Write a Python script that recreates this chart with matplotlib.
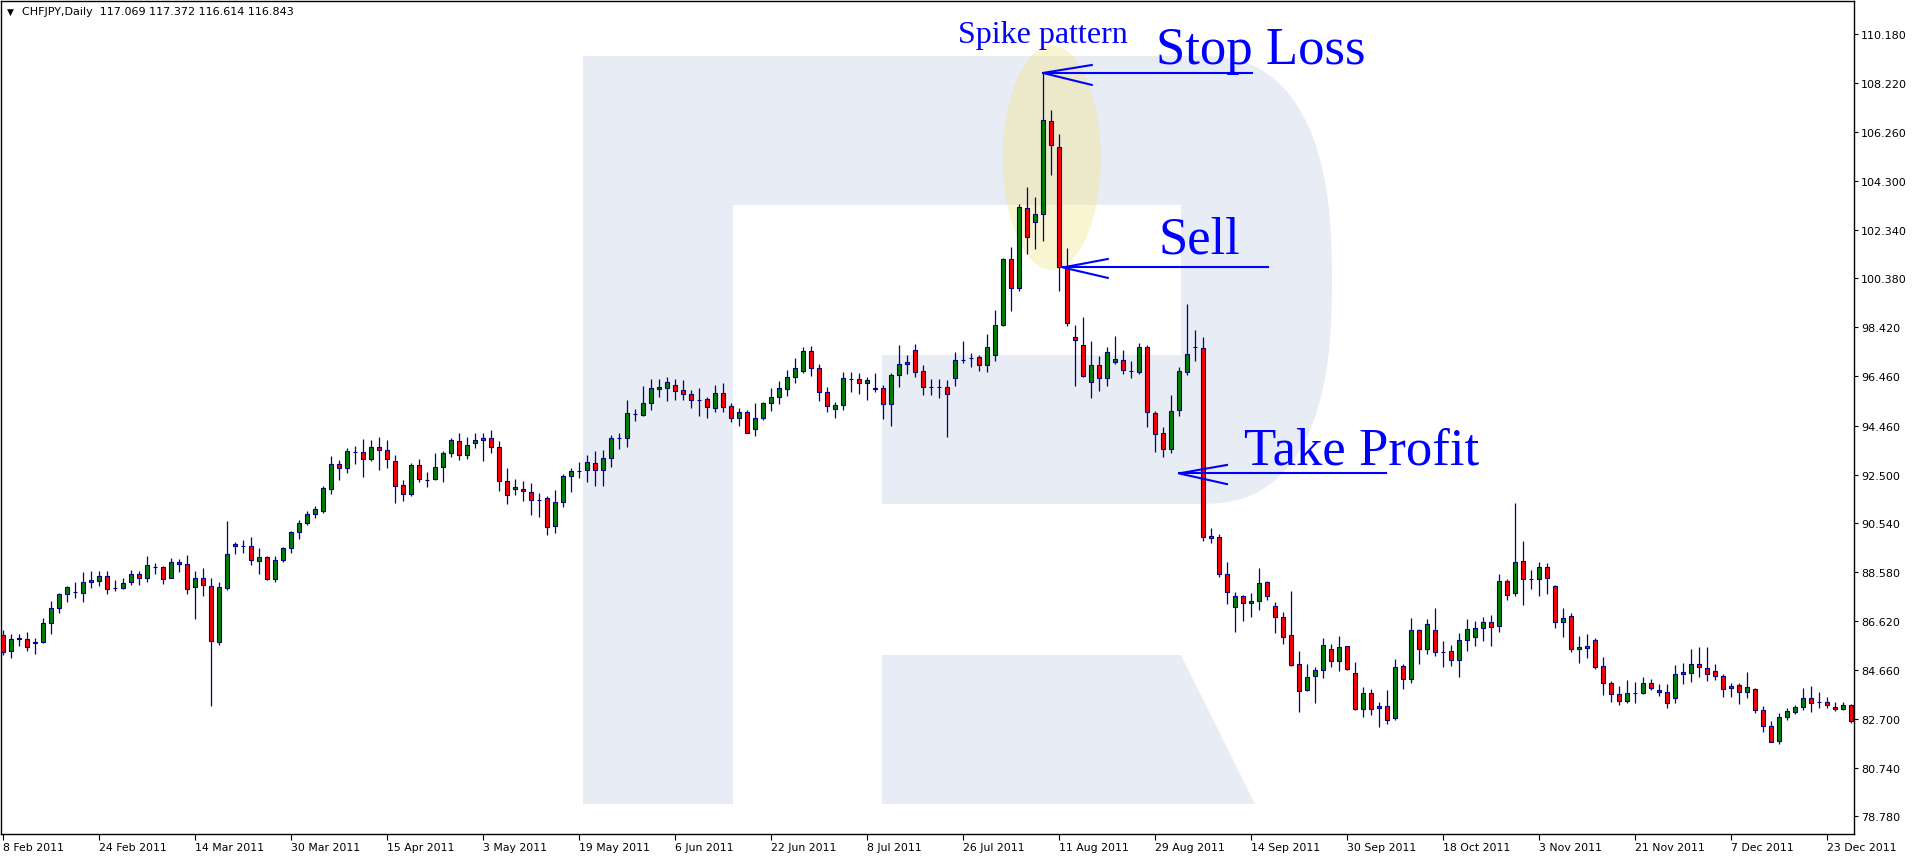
import numpy as np
import pandas as pd
import matplotlib
matplotlib.use("Agg")
import matplotlib.pyplot as plt
from matplotlib.patches import Polygon, Ellipse

# ---- data (daily CHFJPY, 8 Feb - 28 Dec 2011) ------------------------------
OPEN = [86.08, 85.40, 85.92, 85.92, 85.76, 85.76, 86.53, 87.13, 87.69, 87.77,
        87.73, 88.17, 88.24, 88.45, 87.93, 87.96, 88.17, 88.53, 88.37, 88.78,
        88.78, 88.37, 88.98, 88.90, 87.97, 88.33, 88.01, 85.80, 87.96, 89.62,
        89.65, 89.62, 89.04, 89.18, 88.29, 89.06, 89.54, 90.18, 90.54, 90.90,
        91.05, 91.91, 92.91, 92.75, 93.42, 93.39, 93.14, 93.60, 93.47, 93.03,
        92.07, 91.71, 92.87, 92.30, 92.31, 92.79, 93.35, 93.84, 93.27, 93.76,
        93.88, 93.96, 93.60, 92.23, 91.91, 91.94, 91.82, 91.49, 91.55, 90.42,
        91.39, 92.43, 92.63, 92.67, 92.95, 92.67, 93.15, 93.96, 93.96, 94.92,
        94.91, 95.36, 95.95, 95.99, 96.09, 95.88, 95.72, 95.51, 95.52, 95.16,
        95.76, 95.24, 94.79, 95.00, 94.32, 94.76, 95.36, 95.60, 95.92, 96.41,
        96.65, 97.45, 96.77, 95.80, 95.12, 95.28, 96.34, 96.33, 96.17, 95.97,
        95.97, 95.32, 96.49, 96.93, 97.49, 96.65, 96.02, 96.02, 96.00, 96.37,
        97.10, 97.18, 97.21, 96.90, 97.30, 98.49, 101.14, 99.98, 103.19, 102.63,
        102.95, 106.69, 105.64, 100.82, 98.03, 97.70, 96.24, 96.90, 96.37, 97.01,
        97.10, 96.67, 96.63, 97.61, 94.97, 94.16, 93.53, 95.08, 96.61, 97.62,
        97.57, 89.94, 90.01, 88.50, 87.19, 87.61, 87.33, 87.41, 88.17, 87.21,
        86.77, 86.05, 84.88, 83.86, 84.40, 84.64, 85.48, 85.00, 85.60, 84.52,
        83.07, 83.72, 83.11, 83.23, 82.71, 84.80, 84.28, 86.26, 85.48, 86.26,
        85.39, 85.40, 85.04, 85.88, 85.98, 86.33, 86.57, 86.41, 88.21, 87.73,
        89.02, 88.31, 88.29, 88.78, 88.01, 86.57, 86.81, 85.48, 85.55, 85.88,
        84.80, 84.12, 83.68, 83.43, 83.72, 83.72, 84.12, 83.84, 83.76, 83.52,
        84.48, 84.52, 84.88, 84.72, 84.60, 84.40, 83.92, 84.04, 83.76, 83.88,
        83.03, 82.39, 81.82, 82.75, 82.95, 83.15, 83.52, 83.38, 83.38, 83.15,
        83.07, 83.27]
HIGH = [86.26, 86.10, 86.10, 86.18, 85.94, 86.74, 87.42, 87.75, 88.03, 88.19,
        88.59, 88.63, 88.65, 88.65, 88.25, 88.37, 88.67, 88.63, 89.23, 88.95,
        88.82, 89.14, 89.10, 89.27, 88.65, 88.74, 88.33, 88.19, 90.64, 89.79,
        89.87, 89.99, 89.55, 89.22, 89.23, 89.59, 90.22, 90.66, 91.03, 91.24,
        92.04, 93.25, 93.07, 93.57, 93.65, 93.93, 93.89, 94.01, 93.89, 93.29,
        92.27, 92.95, 93.13, 92.59, 93.37, 93.45, 93.96, 94.17, 94.01, 94.17,
        94.17, 94.29, 93.84, 92.75, 92.31, 92.23, 92.15, 91.76, 91.63, 91.87,
        92.51, 92.75, 92.99, 93.27, 93.43, 93.51, 94.08, 94.17, 95.50, 95.13,
        96.06, 96.34, 96.34, 96.42, 96.34, 96.30, 95.88, 95.98, 95.60, 96.10,
        96.18, 95.38, 95.17, 95.09, 95.38, 95.42, 95.98, 96.26, 96.70, 97.18,
        97.62, 97.66, 96.93, 96.02, 95.42, 96.62, 96.62, 96.58, 96.42, 96.58,
        96.11, 96.58, 97.71, 97.30, 97.75, 96.89, 96.34, 96.34, 96.31, 97.41,
        97.87, 97.38, 97.32, 98.15, 99.11, 101.20, 101.65, 103.37, 104.06, 103.66,
        108.65, 107.14, 106.16, 101.60, 98.49, 98.84, 97.87, 97.28, 97.62, 98.08,
        97.52, 97.06, 97.78, 97.70, 95.07, 94.41, 95.70, 96.81, 99.35, 98.31,
        98.04, 90.34, 90.11, 89.01, 87.79, 87.65, 87.73, 88.75, 88.21, 87.37,
        86.97, 87.81, 85.40, 84.88, 84.76, 85.96, 85.70, 86.02, 85.60, 84.97,
        83.96, 83.88, 83.39, 83.86, 85.09, 84.89, 86.74, 86.30, 86.70, 87.14,
        85.82, 85.66, 86.14, 86.70, 86.62, 86.79, 86.86, 88.51, 88.32, 91.36,
        89.83, 88.67, 88.99, 88.95, 88.07, 87.14, 86.93, 86.02, 86.10, 85.96,
        85.18, 84.21, 84.00, 84.25, 84.16, 84.36, 84.28, 84.09, 84.09, 84.85,
        84.92, 85.50, 85.56, 85.56, 84.88, 84.48, 84.12, 84.12, 84.57, 83.92,
        83.19, 82.59, 82.91, 83.11, 83.27, 83.93, 84.00, 83.76, 83.56, 83.39,
        83.39, 83.31]
LOW = [85.27, 85.15, 85.60, 85.43, 85.31, 85.74, 86.11, 86.96, 87.40, 87.56,
       87.40, 87.96, 88.04, 87.72, 87.84, 87.92, 88.08, 88.08, 88.20, 88.52,
       88.12, 88.35, 88.60, 87.72, 86.71, 87.64, 83.22, 85.67, 87.88, 89.32,
       89.36, 88.88, 88.52, 88.27, 88.20, 88.98, 89.36, 89.93, 90.46, 90.74,
       90.97, 91.73, 92.30, 92.58, 92.94, 92.42, 93.06, 92.70, 92.78, 91.37,
       91.45, 91.65, 92.22, 92.01, 92.30, 92.22, 93.22, 93.10, 93.14, 93.58,
       93.06, 93.38, 91.85, 91.33, 91.69, 91.45, 90.89, 90.81, 90.09, 90.17,
       91.21, 91.82, 92.38, 92.22, 92.06, 92.06, 92.82, 93.54, 93.60, 94.67,
       94.87, 95.11, 95.63, 95.47, 95.50, 95.51, 95.19, 94.87, 94.79, 95.00,
       95.03, 94.61, 94.44, 94.16, 94.06, 94.71, 95.07, 95.35, 95.67, 96.19,
       96.58, 96.47, 95.47, 95.03, 94.79, 95.11, 95.82, 95.75, 95.51, 95.83,
       94.75, 94.47, 96.03, 96.55, 96.43, 95.71, 95.71, 95.59, 94.02, 96.07,
       96.97, 96.81, 96.67, 96.63, 97.05, 98.45, 99.08, 99.86, 101.37, 101.57,
       101.89, 104.54, 99.86, 98.47, 96.07, 96.42, 95.59, 95.87, 96.04, 96.95,
       96.55, 96.37, 96.53, 94.40, 93.39, 93.19, 93.35, 94.87, 96.50, 97.05,
       89.85, 89.75, 88.40, 87.29, 86.18, 86.63, 86.79, 87.08, 87.48, 86.15,
       85.71, 84.83, 82.98, 83.82, 83.35, 84.32, 84.76, 84.61, 84.66, 83.06,
       82.78, 82.86, 82.35, 82.50, 82.66, 83.90, 84.12, 84.91, 85.31, 85.23,
       84.79, 84.83, 84.38, 85.43, 85.63, 85.83, 85.63, 86.19, 87.48, 87.61,
       87.28, 87.91, 87.64, 87.71, 86.35, 86.00, 85.36, 84.92, 85.15, 84.68,
       83.66, 83.39, 83.27, 83.34, 83.34, 83.69, 83.84, 83.62, 83.11, 83.34,
       84.10, 84.18, 84.39, 84.21, 84.26, 83.58, 83.58, 83.31, 83.54, 82.91,
       82.18, 81.75, 81.69, 82.63, 82.87, 83.03, 82.95, 83.11, 83.11, 82.99,
       83.03, 82.54]
CLOSE = [85.36, 85.92, 85.94, 85.56, 85.72, 86.53, 87.13, 87.69, 87.97, 87.79,
         88.17, 88.27, 88.45, 87.89, 87.96, 88.13, 88.53, 88.37, 88.86, 88.79,
         88.32, 88.98, 88.90, 87.92, 88.33, 88.05, 85.84, 87.97, 89.30, 89.70,
         89.63, 89.06, 89.18, 88.29, 89.06, 89.54, 90.18, 90.54, 90.90, 91.11,
         91.95, 92.91, 92.75, 93.43, 93.41, 93.11, 93.60, 93.51, 93.11, 92.03,
         91.71, 92.87, 92.31, 92.28, 92.79, 93.35, 93.88, 93.30, 93.68, 93.88,
         93.96, 93.60, 92.23, 91.67, 91.99, 91.83, 91.47, 91.48, 90.38, 91.39,
         92.43, 92.63, 92.64, 92.99, 92.67, 93.15, 93.96, 93.97, 94.96, 94.93,
         95.36, 95.97, 96.00, 96.21, 95.84, 95.72, 95.48, 95.50, 95.20, 95.76,
         95.23, 94.79, 95.00, 94.18, 94.76, 95.36, 95.60, 95.97, 96.41, 96.77,
         97.45, 96.77, 95.80, 95.24, 95.28, 96.37, 96.35, 96.17, 96.29, 95.95,
         95.32, 96.49, 96.93, 97.02, 96.61, 96.00, 96.03, 96.01, 95.74, 97.09,
         97.12, 97.20, 96.90, 97.62, 98.49, 101.14, 99.98, 103.23, 102.03, 102.95,
         106.73, 105.74, 100.82, 98.57, 97.89, 96.45, 96.90, 96.37, 97.41, 97.13,
         96.69, 96.66, 97.61, 95.00, 94.13, 93.53, 95.04, 96.65, 97.34, 97.63,
         89.99, 90.02, 88.50, 87.79, 87.63, 87.33, 87.41, 88.13, 87.61, 86.77,
         86.00, 84.87, 83.80, 84.36, 84.64, 85.64, 85.03, 85.56, 84.69, 83.07,
         83.72, 83.07, 83.23, 82.63, 84.76, 84.28, 86.26, 85.48, 86.50, 85.36,
         85.37, 85.04, 85.88, 86.29, 86.33, 86.57, 86.37, 88.21, 87.68, 88.98,
         88.29, 88.29, 88.78, 88.37, 86.57, 86.73, 85.50, 85.56, 85.60, 84.76,
         84.12, 83.68, 83.41, 83.72, 83.73, 84.12, 83.92, 83.76, 83.35, 84.48,
         84.56, 84.88, 84.76, 84.48, 84.40, 83.88, 84.00, 83.76, 83.96, 83.03,
         82.39, 81.77, 82.75, 82.99, 83.15, 83.52, 83.35, 83.39, 83.25, 83.07,
         83.27, 82.59]
DATES = pd.bdate_range("2011-02-08", periods=len(OPEN))
LABEL_EVERY = 12
PRICE_TICKS = ["110.180", "108.220", "106.260", "104.300", "102.340", "100.380",
               "98.420", "96.460", "94.460", "92.500", "90.540", "88.580",
               "86.620", "84.660", "82.700", "80.740", "78.780"]
HEADER = "CHFJPY,Daily  117.069 117.372 116.614 116.843"

# annotation arrows: (tip bar, price, barb bar, barb up, barb down, line end bar)
STOP_LOSS = (130.0, 108.63, 136.1, 108.95, 108.15, 156.1)
SELL = (132.5, 100.82, 138.1, 101.16, 100.40, 158.1)
TAKE_PROFIT = (147.0, 92.55, 153.0, 92.89, 92.12, 172.9)

GREEN, RED, NAVY, BLUE = "#008000", "#ff0000", "#000080", "#0000ff"
WMARK = "#e8ecf4"
W, H = 1916, 862

# ---- figure ---------------------------------------------------------------
fig = plt.figure(figsize=(W / 100, H / 100), dpi=100)
ax = fig.add_axes([0.5 / W, 1 - 835 / H, (1854 - 0.5) / W, (835 - 2) / H])
ax.set_xlim(-0.31, 231.375)
ax.set_ylim(78.07, 111.52)


def px(pts):
    # pixel (y down) -> figure fraction, for the background logo
    return [(x / W, 1 - y / H) for x, y in pts]


# background "R" watermark
t = np.linspace(np.pi / 2, -np.pi / 2, 60)
n = 2.5
arc = [(1200 + 132 * np.sign(np.cos(a)) * abs(np.cos(a)) ** (2 / n),
        281 - 224 * np.sign(np.sin(a)) * abs(np.sin(a)) ** (2 / n)) for a in t]
outer = [(583, 805), (583, 57)] + arc + [(882, 505), (882, 356), (1181, 356),
                                         (1181, 206), (733, 206), (733, 805)]
leg = [(882, 656), (1181, 656), (1255, 805), (882, 805)]
for shape in (outer, leg):
    ax.add_patch(Polygon(px(shape), closed=True, transform=fig.transFigure,
                         facecolor=WMARK, edgecolor="none", zorder=0.5))

# spike highlight
ax.add_patch(Ellipse((131.1, 105.22), 12.25, 9.0, facecolor="#f0e68c",
                     alpha=0.4, edgecolor="none", zorder=1))

# ---- candles --------------------------------------------------------------
o, h, l, c = map(np.asarray, (OPEN, HIGH, LOW, CLOSE))
x = np.arange(len(o))
up = c >= o
ax.vlines(x, l, h, color=NAVY, lw=0.9, zorder=3)
ax.bar(x, np.abs(c - o), bottom=np.minimum(o, c), width=0.6,
       color=np.where(up, GREEN, RED), edgecolor=NAVY, linewidth=0.8, zorder=4)

# ---- annotations ----------------------------------------------------------
for tip_x, tip_y, bx, by_up, by_dn, end_x in (STOP_LOSS, SELL, TAKE_PROFIT):
    ax.plot([tip_x, end_x], [tip_y, tip_y], color=BLUE, lw=1.5, zorder=6)
    ax.plot([bx, tip_x, bx], [by_up, tip_y, by_dn], color=BLUE, lw=1.5, zorder=6)

serif = "Liberation Serif"
ax.text(119.4, 109.87, "Spike pattern", color=BLUE, fontsize=23, family=serif,
        va="baseline", zorder=7)
ax.text(144.1, 109.05, "Stop Loss", color=BLUE, fontsize=38, family=serif,
        va="baseline", zorder=7)
ax.text(144.4, 101.43, "Sell", color=BLUE, fontsize=38, family=serif,
        va="baseline", zorder=7)
ax.text(155.1, 92.93, "Take Profit", color=BLUE, fontsize=38, family=serif,
        va="baseline", zorder=7)

ax.text(0.0054, 0.988, "\u25bc", transform=ax.transAxes, fontsize=6.5,
        ha="center", va="center", zorder=7)
ax.text(0.0115, 0.988, HEADER, transform=ax.transAxes, fontsize=8,
        ha="left", va="center", zorder=7)

# ---- axes -----------------------------------------------------------------
ax.yaxis.tick_right()
ax.set_yticks([float(s) for s in PRICE_TICKS])
ax.set_yticklabels(PRICE_TICKS)
ticks = list(range(0, len(o), LABEL_EVERY))
ax.set_xticks(ticks)
ax.set_xticklabels([f"{DATES[i].day} {DATES[i]:%b %Y}" for i in ticks], ha="left")
ax.tick_params(axis="y", direction="out", length=3, width=0.8, pad=2, labelsize=8)
ax.tick_params(axis="x", direction="out", length=4, width=0.8, pad=2, labelsize=7.8)
for s in ax.spines.values():
    s.set_color("black")
    s.set_linewidth(1)

fig.savefig("out.png", dpi=100)
